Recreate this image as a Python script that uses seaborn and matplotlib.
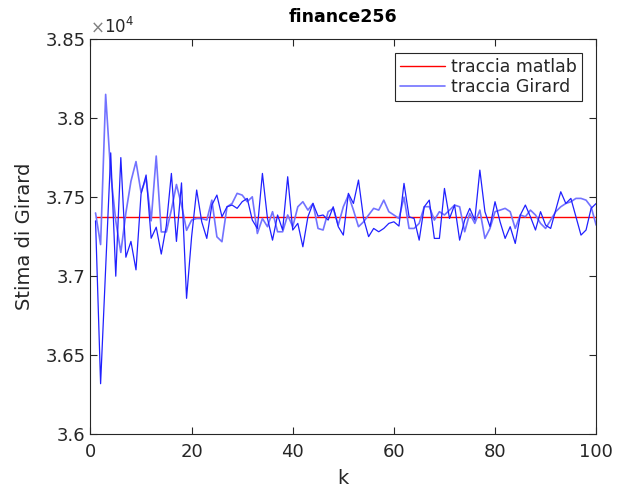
import numpy as np
import pandas as pd
import matplotlib
matplotlib.use("Agg")
import matplotlib.pyplot as plt
import seaborn as sns
from matplotlib.ticker import FixedLocator, FuncFormatter

# ---- data (values in units of 1e4) ----
k = list(range(1, 101))

girard_light = [
    3.740, 3.720, 3.815, 3.765, 3.735, 3.715, 3.740, 3.760, 3.7725, 3.753,
    3.762, 3.735, 3.776, 3.728, 3.728, 3.742, 3.758, 3.745, 3.729, 3.7355,
    3.7365, 3.7365, 3.7355, 3.7481, 3.7249, 3.7218, 3.7439, 3.746, 3.7524, 3.7513,
    3.7471, 3.7502, 3.727, 3.7365, 3.7313, 3.7408, 3.7281, 3.7281, 3.7387, 3.7313,
    3.7439, 3.7471, 3.7418, 3.746, 3.7302, 3.7292, 3.7408, 3.7429, 3.7323, 3.7439,
    3.7513, 3.7418, 3.7313, 3.7344, 3.7387, 3.7429, 3.7418, 3.7481, 3.7408, 3.7387,
    3.7365, 3.750, 3.7302, 3.7302, 3.7334, 3.7439, 3.744, 3.7355, 3.7408, 3.7387,
    3.7418, 3.745, 3.7439, 3.7281, 3.7397, 3.7334, 3.7418, 3.7239, 3.7302, 3.7408,
    3.7418, 3.7429, 3.7408, 3.7302, 3.7387, 3.7376, 3.7418, 3.7387, 3.7334, 3.7302,
    3.7355, 3.7408, 3.7439, 3.746, 3.7471, 3.7492, 3.7492, 3.7481, 3.7439, 3.7323,
]

girard_dark = [
    3.735, 3.632, 3.705, 3.778, 3.700, 3.775, 3.712, 3.722, 3.704, 3.752,
    3.764, 3.724, 3.731, 3.714, 3.732, 3.765, 3.722, 3.759, 3.686, 3.725,
    3.7545, 3.7344, 3.7239, 3.745, 3.7513, 3.7376, 3.7439, 3.745, 3.7429, 3.7471,
    3.7492, 3.7355, 3.7302, 3.765, 3.7365, 3.7228, 3.7387, 3.7292, 3.7629, 3.7292,
    3.7334, 3.7186, 3.7376, 3.746, 3.738, 3.7387, 3.7355, 3.7439, 3.7313, 3.726,
    3.7524, 3.746, 3.7608, 3.7365, 3.725, 3.7302, 3.7281, 3.7302, 3.7334, 3.7344,
    3.7317, 3.7587, 3.7376, 3.7365, 3.7228, 3.7439, 3.7481, 3.7239, 3.7239, 3.7555,
    3.7365, 3.745, 3.7228, 3.7355, 3.7429, 3.7355, 3.7671, 3.7408, 3.7313, 3.7471,
    3.7344, 3.7239, 3.7313, 3.7207, 3.7387, 3.745, 3.7376, 3.7292, 3.7408, 3.7323,
    3.7302, 3.7418, 3.7534, 3.746, 3.7492, 3.7376, 3.726, 3.7292, 3.7429, 3.746,
]

trace_matlab = 3.7376
scale = 1e4

y_ticks = [3.6, 3.65, 3.7, 3.75, 3.8, 3.85]
x_ticks = [0, 20, 40, 60, 80, 100]

df = pd.DataFrame({
    "k": k,
    "light": np.array(girard_light) * scale,
    "dark": np.array(girard_dark) * scale,
    "matlab": np.full(len(k), trace_matlab * scale),
})

sns.set_theme(style="white")
plt.rcParams["font.family"] = ["DejaVu Sans"]

fig = plt.figure(figsize=(6.21, 4.91), dpi=100)
ax = fig.add_axes([0.1457, 0.1155, 0.8143, 0.805])

txt = "#262626"
sns.lineplot(data=df, x="k", y="matlab", ax=ax, color="red", lw=1.0,
             label="traccia matlab", estimator=None)
sns.lineplot(data=df, x="k", y="light", ax=ax, color="#7272ff", lw=1.2,
             label="traccia Girard", estimator=None)
sns.lineplot(data=df, x="k", y="dark", ax=ax, color="#2020ff", lw=0.9,
             estimator=None, legend=False)

ax.set_xlim(0, 100)
ax.set_ylim(3.6 * scale, 3.85 * scale)
ax.xaxis.set_major_locator(FixedLocator(x_ticks))
ax.yaxis.set_major_locator(FixedLocator([t * scale for t in y_ticks]))
ax.yaxis.set_major_formatter(FuncFormatter(lambda v, p: "%g" % round(v / scale, 4)))

for s in ax.spines.values():
    s.set_visible(True)
    s.set_color("#262626")
    s.set_linewidth(0.8)
ax.tick_params(direction="in", length=5, width=0.8, colors="#262626",
               labelsize=13, top=True, right=True, bottom=True, left=True,
               labelcolor=txt)
ax.tick_params(axis="x", pad=6)

ax.set_xlabel("k", fontsize=14, color=txt, labelpad=6)
ax.set_ylabel("Stima di Girard", fontsize=14, color=txt, labelpad=8)
ax.set_title("finance256", fontsize=12.5, fontweight="bold", color="black", pad=12)

ax.text(0.0, 1.006, r"$\times$", transform=ax.transAxes, fontsize=12,
        color="#808080", ha="left", va="bottom")
ax.text(0.027, 1.006, r"$10^{4}$", transform=ax.transAxes, fontsize=12,
        color=txt, ha="left", va="bottom")

leg = ax.legend(loc="upper right", fontsize=12.5, frameon=True, fancybox=False,
                framealpha=1, edgecolor="#262626", borderpad=0.3,
                handlelength=2.6, handletextpad=0.35, labelspacing=0.1,
                borderaxespad=0.8)
leg.get_frame().set_linewidth(0.8)

fig.savefig("out.png", dpi=100)
